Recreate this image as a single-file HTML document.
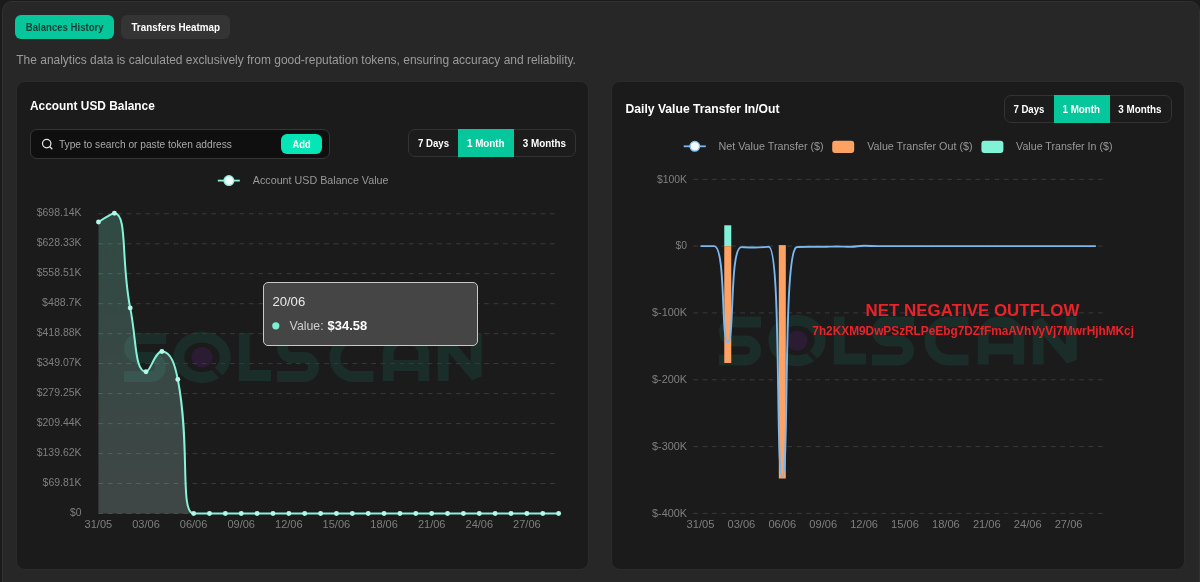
<!DOCTYPE html>
<html>
<head>
<meta charset="utf-8">
<title>Analytics</title>
<style>
*{box-sizing:border-box;margin:0;padding:0}
html,body{width:1200px;height:582px;overflow:hidden;background:#1b1b1b}
body{font-family:"Liberation Sans",sans-serif;position:relative;color:#fff}
.abs{position:absolute}
.outer{left:2px;top:1px;width:1198px;height:600px;border:1.3px solid #313131;border-radius:10px 10px 0 0;background:#272727}
.tab{top:15.3px;height:24px;border-radius:6px}
.tab1{left:15px;width:99px;background:#06c79b}
.tab2{left:121px;width:109px;background:#343434}
.card{background:#1b1b1b;border-radius:9px;border:1px solid #2b2b2b}
.cardL{left:15.5px;top:80.6px;width:573.9px;height:489.4px}
.cardR{left:611px;top:80.6px;width:574px;height:489.4px}
.search{left:30px;top:129px;width:300px;height:30px;background:#0f0f0f;border:1px solid #363636;border-radius:7px}
.add{left:281px;top:134px;width:41px;height:20px;background:#04e6b5;border-radius:6px}
.grp{height:28px;width:167.5px;border:1px solid #333;border-radius:7px;overflow:hidden;background:#1c1c1c}
.act{width:56.2px;height:28px;background:#06c79b}
.tip{left:263px;top:282px;width:214.5px;height:63.6px;background:#454545;border:1.2px solid #c8c8c8;border-radius:5px}
svg{position:absolute;left:0;top:0;will-change:transform}
svg text{font-family:"Liberation Sans",sans-serif}
.grid{stroke:#3a3a3a;stroke-width:1;stroke-dasharray:4.7 4.71}
.ax{font-size:10.2px;fill:#7f7f7f}
.lg{font-size:11.4px;fill:#999}
.b{font-weight:bold}
.bt{font-size:10.8px;font-weight:bold;fill:#fff}
.red{fill:#ea2229;font-weight:bold}
</style>
</head>
<body>
<div class="abs outer"></div>
<div class="abs tab tab1"></div>
<div class="abs tab tab2"></div>
<div class="abs card cardL"></div>
<div class="abs card cardR"></div>
<div class="abs search"></div>
<div class="abs add"></div>
<div class="abs grp" style="left:408.4px;top:129px"></div><div class="abs act" style="left:457.9px;top:129px"></div>
<div class="abs grp" style="left:1004px;top:95px"></div><div class="abs act" style="left:1053.5px;top:95px"></div>

<svg width="1200" height="582" viewBox="0 0 1200 582">
<defs>
<linearGradient id="gL" x1="0" y1="213" x2="0" y2="513" gradientUnits="userSpaceOnUse"><stop offset="0" stop-color="#7cf0d3" stop-opacity="0.22"/><stop offset="1" stop-color="#c8ebe6" stop-opacity="0.21"/></linearGradient>

</defs>
<!-- header texts -->
<text x="25.8" y="31" textLength="77.8" lengthAdjust="spacingAndGlyphs" style="font-size:10.8px;font-weight:bold;fill:#153d33">Balances History</text>
<text x="131.4" y="31" textLength="88.6" lengthAdjust="spacingAndGlyphs" class="bt">Transfers Heatmap</text>
<text x="16.3" y="63.8" textLength="559.6" lengthAdjust="spacingAndGlyphs" style="font-size:12.4px;fill:#9b9b9b">The analytics data is calculated exclusively from good-reputation tokens, ensuring accuracy and reliability.</text>
<text x="30" y="110" textLength="124.8" lengthAdjust="spacingAndGlyphs" style="font-size:13.5px;font-weight:bold;fill:#fff">Account USD Balance</text>
<text x="625.5" y="113.1" textLength="154" lengthAdjust="spacingAndGlyphs" style="font-size:13.2px;font-weight:bold;fill:#fff">Daily Value Transfer In/Out</text>
<!-- search -->
<circle cx="46.7" cy="143.6" r="4.2" fill="none" stroke="#e2e2e2" stroke-width="1.25"/>
<path d="M49.8 146.7 L51.9 148.7" stroke="#e2e2e2" stroke-width="1.3" stroke-linecap="round"/>
<text x="58.9" y="147.7" textLength="173" lengthAdjust="spacingAndGlyphs" style="font-size:11px;fill:#a9a9a9">Type to search or paste token address</text>
<text x="292.5" y="147.6" textLength="18.2" lengthAdjust="spacingAndGlyphs" class="bt">Add</text>
<!-- button groups -->
<text x="418" y="146.7" textLength="31" lengthAdjust="spacingAndGlyphs" class="bt">7 Days</text>
<text x="467" y="146.7" textLength="37.6" lengthAdjust="spacingAndGlyphs" class="bt">1 Month</text>
<text x="522.7" y="146.7" textLength="43.3" lengthAdjust="spacingAndGlyphs" class="bt">3 Months</text>
<text x="1013.4" y="112.6" textLength="31" lengthAdjust="spacingAndGlyphs" class="bt">7 Days</text>
<text x="1062.5" y="112.6" textLength="37.6" lengthAdjust="spacingAndGlyphs" class="bt">1 Month</text>
<text x="1118.2" y="112.6" textLength="43.3" lengthAdjust="spacingAndGlyphs" class="bt">3 Months</text>
<!-- watermarks -->
<g transform="translate(123,331.6)" fill="none" stroke="#1b2d29" stroke-width="11">
<path d="M43,7 H16 a9.5,9.5 0 0 0 0,19 H28 a9.5,9.5 0 0 1 0,19 H1"/>
<ellipse cx="79" cy="25.6" rx="23.2" ry="20.3"/>
<path d="M88,35 L101,48" stroke="#1c1c1c" stroke-width="4"/>
<ellipse cx="79" cy="25.6" rx="10.6" ry="10.2" fill="#2c1c33" stroke="none"/>
<path d="M121.2,1.5 V44 H148"/>
<path d="M196,7 H169 a9.5,9.5 0 0 0 0,19 H181 a9.5,9.5 0 0 1 0,19 H154"/>
<path d="M250.5,7 H231 a19,19 0 0 0 0,38 H250.5"/>
<path d="M265.2,49.5 V23 a16,16 0 0 1 16,-16 h3.6 a16,16 0 0 1 16,16 V49.5 M265.2,34 H300.8"/>
<path d="M320.2,49.5 V6 L353.2,45 V1.5" stroke-linejoin="bevel"/>
</g>
<g transform="translate(718,315)" fill="none" stroke="#1b2d29" stroke-width="11">
<path d="M43,7 H16 a9.5,9.5 0 0 0 0,19 H28 a9.5,9.5 0 0 1 0,19 H1"/>
<ellipse cx="79" cy="25.6" rx="23.2" ry="20.3"/>
<path d="M88,35 L101,48" stroke="#1c1c1c" stroke-width="4"/>
<ellipse cx="79" cy="25.6" rx="10.6" ry="10.2" fill="#2c1c33" stroke="none"/>
<path d="M121.2,1.5 V44 H148"/>
<path d="M196,7 H169 a9.5,9.5 0 0 0 0,19 H181 a9.5,9.5 0 0 1 0,19 H154"/>
<path d="M250.5,7 H231 a19,19 0 0 0 0,38 H250.5"/>
<path d="M265.2,49.5 V23 a16,16 0 0 1 16,-16 h3.6 a16,16 0 0 1 16,16 V49.5 M265.2,34 H300.8"/>
<path d="M320.2,49.5 V6 L353.2,45 V1.5" stroke-linejoin="bevel"/>
</g>
<!-- legend left -->
<line x1="217.8" y1="180.6" x2="239.8" y2="180.6" stroke="#8cf4db" stroke-width="1.8"/>
<circle cx="228.9" cy="180.6" r="4.8" fill="#f0fffb" stroke="#8ff3da" stroke-width="1.4"/>
<text x="252.8" y="183.8" textLength="135.7" lengthAdjust="spacingAndGlyphs" class="lg">Account USD Balance Value</text>
<!-- legend right -->
<line x1="683.7" y1="146.3" x2="705.8" y2="146.3" stroke="#7ab8f0" stroke-width="1.8"/>
<circle cx="694.8" cy="146.3" r="4.8" fill="#f4f9ff" stroke="#86c0f9" stroke-width="1.4"/>
<text x="718.4" y="149.8" textLength="105.3" lengthAdjust="spacingAndGlyphs" class="lg">Net Value Transfer ($)</text>
<rect x="832.2" y="140.7" width="22" height="12.2" rx="3" fill="#fda263"/>
<text x="867.2" y="149.8" textLength="105.3" lengthAdjust="spacingAndGlyphs" class="lg">Value Transfer Out ($)</text>
<rect x="981.4" y="140.7" width="22" height="12.2" rx="3" fill="#80f2d8"/>
<text x="1016.1" y="149.8" textLength="96.4" lengthAdjust="spacingAndGlyphs" class="lg">Value Transfer In ($)</text>
<line x1="98.4" y1="213.8" x2="558.6" y2="213.8" class="grid"/>
<text x="81.6" y="215.9" class="ax" text-anchor="end" textLength="44.9" lengthAdjust="spacingAndGlyphs">$698.14K</text>
<line x1="98.4" y1="243.8" x2="558.6" y2="243.8" class="grid"/>
<text x="81.6" y="245.9" class="ax" text-anchor="end" textLength="44.9" lengthAdjust="spacingAndGlyphs">$628.33K</text>
<line x1="98.4" y1="273.7" x2="558.6" y2="273.7" class="grid"/>
<text x="81.6" y="275.9" class="ax" text-anchor="end" textLength="44.9" lengthAdjust="spacingAndGlyphs">$558.51K</text>
<line x1="98.4" y1="303.7" x2="558.6" y2="303.7" class="grid"/>
<text x="81.6" y="305.9" class="ax" text-anchor="end" textLength="39.5" lengthAdjust="spacingAndGlyphs">$488.7K</text>
<line x1="98.4" y1="333.7" x2="558.6" y2="333.7" class="grid"/>
<text x="81.6" y="335.9" class="ax" text-anchor="end" textLength="44.9" lengthAdjust="spacingAndGlyphs">$418.88K</text>
<line x1="98.4" y1="363.6" x2="558.6" y2="363.6" class="grid"/>
<text x="81.6" y="365.9" class="ax" text-anchor="end" textLength="44.9" lengthAdjust="spacingAndGlyphs">$349.07K</text>
<line x1="98.4" y1="393.6" x2="558.6" y2="393.6" class="grid"/>
<text x="81.6" y="395.9" class="ax" text-anchor="end" textLength="44.9" lengthAdjust="spacingAndGlyphs">$279.25K</text>
<line x1="98.4" y1="423.6" x2="558.6" y2="423.6" class="grid"/>
<text x="81.6" y="425.9" class="ax" text-anchor="end" textLength="44.9" lengthAdjust="spacingAndGlyphs">$209.44K</text>
<line x1="98.4" y1="453.6" x2="558.6" y2="453.6" class="grid"/>
<text x="81.6" y="455.9" class="ax" text-anchor="end" textLength="44.9" lengthAdjust="spacingAndGlyphs">$139.62K</text>
<line x1="98.4" y1="483.5" x2="558.6" y2="483.5" class="grid"/>
<text x="81.6" y="485.9" class="ax" text-anchor="end" textLength="39.0" lengthAdjust="spacingAndGlyphs">$69.81K</text>
<line x1="98.4" y1="513.5" x2="558.6" y2="513.5" class="grid"/>
<text x="81.6" y="515.9" class="ax" text-anchor="end" textLength="11.5" lengthAdjust="spacingAndGlyphs">$0</text>
<text x="98.4" y="527.6" class="ax" text-anchor="middle" textLength="27.6" lengthAdjust="spacingAndGlyphs">31/05</text>
<text x="146.0" y="527.6" class="ax" text-anchor="middle" textLength="27.6" lengthAdjust="spacingAndGlyphs">03/06</text>
<text x="193.6" y="527.6" class="ax" text-anchor="middle" textLength="27.6" lengthAdjust="spacingAndGlyphs">06/06</text>
<text x="241.2" y="527.6" class="ax" text-anchor="middle" textLength="27.6" lengthAdjust="spacingAndGlyphs">09/06</text>
<text x="288.8" y="527.6" class="ax" text-anchor="middle" textLength="27.6" lengthAdjust="spacingAndGlyphs">12/06</text>
<text x="336.4" y="527.6" class="ax" text-anchor="middle" textLength="27.6" lengthAdjust="spacingAndGlyphs">15/06</text>
<text x="384.1" y="527.6" class="ax" text-anchor="middle" textLength="27.6" lengthAdjust="spacingAndGlyphs">18/06</text>
<text x="431.7" y="527.6" class="ax" text-anchor="middle" textLength="27.6" lengthAdjust="spacingAndGlyphs">21/06</text>
<text x="479.3" y="527.6" class="ax" text-anchor="middle" textLength="27.6" lengthAdjust="spacingAndGlyphs">24/06</text>
<text x="526.9" y="527.6" class="ax" text-anchor="middle" textLength="27.6" lengthAdjust="spacingAndGlyphs">27/06</text>
<path d="M98.50,222.00 C98.50,222.00 111.88,213.30 114.40,213.30 C127.73,213.30 120.83,260.90 130.20,307.90 C136.63,340.15 134.61,371.80 146.00,371.80 C150.46,371.80 154.82,351.50 161.90,351.50 C170.72,351.50 174.75,363.84 177.80,379.40 C190.61,444.81 179.44,513.45 193.62,513.45 C195.29,513.45 201.56,513.45 209.49,513.45 C217.43,513.45 217.43,513.45 225.36,513.45 C233.30,513.45 233.29,513.45 241.23,513.45 C249.17,513.45 249.17,513.45 257.10,513.45 C265.04,513.45 265.04,513.45 272.97,513.45 C280.91,513.45 280.91,513.45 288.84,513.45 C296.78,513.45 296.78,513.45 304.71,513.45 C312.64,513.45 312.64,513.45 320.58,513.45 C328.51,513.45 328.51,513.45 336.45,513.45 C344.38,513.45 344.38,513.45 352.32,513.45 C360.25,513.45 360.25,513.45 368.19,513.45 C376.12,513.45 376.12,513.45 384.06,513.45 C391.99,513.45 391.99,513.45 399.93,513.45 C407.86,513.45 407.86,513.45 415.80,513.45 C423.73,513.45 423.73,513.45 431.67,513.45 C439.60,513.45 439.60,513.45 447.54,513.45 C455.47,513.45 455.47,513.45 463.41,513.45 C471.34,513.45 471.34,513.45 479.28,513.45 C487.21,513.45 487.21,513.45 495.15,513.45 C503.08,513.45 503.09,513.45 511.02,513.45 C518.95,513.45 518.95,513.45 526.89,513.45 C534.83,513.45 534.83,513.45 542.76,513.45 C550.69,513.45 558.63,513.45 558.63,513.45 L558.63,513.50 L98.40,513.50 Z" fill="url(#gL)"/>
<path d="M98.50,222.00 C98.50,222.00 111.88,213.30 114.40,213.30 C127.73,213.30 120.83,260.90 130.20,307.90 C136.63,340.15 134.61,371.80 146.00,371.80 C150.46,371.80 154.82,351.50 161.90,351.50 C170.72,351.50 174.75,363.84 177.80,379.40 C190.61,444.81 179.44,513.45 193.62,513.45 C195.29,513.45 201.56,513.45 209.49,513.45 C217.43,513.45 217.43,513.45 225.36,513.45 C233.30,513.45 233.29,513.45 241.23,513.45 C249.17,513.45 249.17,513.45 257.10,513.45 C265.04,513.45 265.04,513.45 272.97,513.45 C280.91,513.45 280.91,513.45 288.84,513.45 C296.78,513.45 296.78,513.45 304.71,513.45 C312.64,513.45 312.64,513.45 320.58,513.45 C328.51,513.45 328.51,513.45 336.45,513.45 C344.38,513.45 344.38,513.45 352.32,513.45 C360.25,513.45 360.25,513.45 368.19,513.45 C376.12,513.45 376.12,513.45 384.06,513.45 C391.99,513.45 391.99,513.45 399.93,513.45 C407.86,513.45 407.86,513.45 415.80,513.45 C423.73,513.45 423.73,513.45 431.67,513.45 C439.60,513.45 439.60,513.45 447.54,513.45 C455.47,513.45 455.47,513.45 463.41,513.45 C471.34,513.45 471.34,513.45 479.28,513.45 C487.21,513.45 487.21,513.45 495.15,513.45 C503.08,513.45 503.09,513.45 511.02,513.45 C518.95,513.45 518.95,513.45 526.89,513.45 C534.83,513.45 534.83,513.45 542.76,513.45 C550.69,513.45 558.63,513.45 558.63,513.45" fill="none" stroke="#86f3d9" stroke-width="2" stroke-linejoin="round"/>
<circle cx="98.50" cy="222.00" r="2.45" fill="#b4f8e8"/>
<circle cx="114.40" cy="213.30" r="2.45" fill="#b4f8e8"/>
<circle cx="130.20" cy="307.90" r="2.45" fill="#b4f8e8"/>
<circle cx="146.00" cy="371.80" r="2.45" fill="#b4f8e8"/>
<circle cx="161.90" cy="351.50" r="2.45" fill="#b4f8e8"/>
<circle cx="177.80" cy="379.40" r="2.45" fill="#b4f8e8"/>
<circle cx="193.62" cy="513.45" r="2.45" fill="#b4f8e8"/>
<circle cx="209.49" cy="513.45" r="2.45" fill="#b4f8e8"/>
<circle cx="225.36" cy="513.45" r="2.45" fill="#b4f8e8"/>
<circle cx="241.23" cy="513.45" r="2.45" fill="#b4f8e8"/>
<circle cx="257.10" cy="513.45" r="2.45" fill="#b4f8e8"/>
<circle cx="272.97" cy="513.45" r="2.45" fill="#b4f8e8"/>
<circle cx="288.84" cy="513.45" r="2.45" fill="#b4f8e8"/>
<circle cx="304.71" cy="513.45" r="2.45" fill="#b4f8e8"/>
<circle cx="320.58" cy="513.45" r="2.45" fill="#b4f8e8"/>
<circle cx="336.45" cy="513.45" r="2.45" fill="#b4f8e8"/>
<circle cx="352.32" cy="513.45" r="2.45" fill="#b4f8e8"/>
<circle cx="368.19" cy="513.45" r="2.45" fill="#b4f8e8"/>
<circle cx="384.06" cy="513.45" r="2.45" fill="#b4f8e8"/>
<circle cx="399.93" cy="513.45" r="2.45" fill="#b4f8e8"/>
<circle cx="415.80" cy="513.45" r="2.45" fill="#b4f8e8"/>
<circle cx="431.67" cy="513.45" r="2.45" fill="#b4f8e8"/>
<circle cx="447.54" cy="513.45" r="2.45" fill="#b4f8e8"/>
<circle cx="463.41" cy="513.45" r="2.45" fill="#b4f8e8"/>
<circle cx="479.28" cy="513.45" r="2.45" fill="#b4f8e8"/>
<circle cx="495.15" cy="513.45" r="2.45" fill="#b4f8e8"/>
<circle cx="511.02" cy="513.45" r="2.45" fill="#b4f8e8"/>
<circle cx="526.89" cy="513.45" r="2.45" fill="#b4f8e8"/>
<circle cx="542.76" cy="513.45" r="2.45" fill="#b4f8e8"/>
<circle cx="558.63" cy="513.45" r="2.45" fill="#b4f8e8"/>
<line x1="693.3" y1="179.3" x2="1103" y2="179.3" class="grid"/>
<text x="687.0" y="182.5" class="ax" text-anchor="end" textLength="30.1" lengthAdjust="spacingAndGlyphs">$100K</text>
<line x1="693.3" y1="246.1" x2="1103" y2="246.1" class="grid"/>
<text x="687.0" y="249.3" class="ax" text-anchor="end" textLength="11.5" lengthAdjust="spacingAndGlyphs">$0</text>
<line x1="693.3" y1="312.9" x2="1103" y2="312.9" class="grid"/>
<text x="687.0" y="316.1" class="ax" text-anchor="end" textLength="35.0" lengthAdjust="spacingAndGlyphs">$-100K</text>
<line x1="693.3" y1="379.8" x2="1103" y2="379.8" class="grid"/>
<text x="687.0" y="383.0" class="ax" text-anchor="end" textLength="35.0" lengthAdjust="spacingAndGlyphs">$-200K</text>
<line x1="693.3" y1="446.6" x2="1103" y2="446.6" class="grid"/>
<text x="687.0" y="449.8" class="ax" text-anchor="end" textLength="35.0" lengthAdjust="spacingAndGlyphs">$-300K</text>
<line x1="693.3" y1="513.4" x2="1103" y2="513.4" class="grid"/>
<text x="687.0" y="516.6" class="ax" text-anchor="end" textLength="35.0" lengthAdjust="spacingAndGlyphs">$-400K</text>
<text x="700.5" y="527.8" class="ax" text-anchor="middle" textLength="27.8" lengthAdjust="spacingAndGlyphs">31/05</text>
<text x="741.4" y="527.8" class="ax" text-anchor="middle" textLength="27.8" lengthAdjust="spacingAndGlyphs">03/06</text>
<text x="782.3" y="527.8" class="ax" text-anchor="middle" textLength="27.8" lengthAdjust="spacingAndGlyphs">06/06</text>
<text x="823.2" y="527.8" class="ax" text-anchor="middle" textLength="27.8" lengthAdjust="spacingAndGlyphs">09/06</text>
<text x="864.1" y="527.8" class="ax" text-anchor="middle" textLength="27.8" lengthAdjust="spacingAndGlyphs">12/06</text>
<text x="905.0" y="527.8" class="ax" text-anchor="middle" textLength="27.8" lengthAdjust="spacingAndGlyphs">15/06</text>
<text x="945.9" y="527.8" class="ax" text-anchor="middle" textLength="27.8" lengthAdjust="spacingAndGlyphs">18/06</text>
<text x="986.8" y="527.8" class="ax" text-anchor="middle" textLength="27.8" lengthAdjust="spacingAndGlyphs">21/06</text>
<text x="1027.7" y="527.8" class="ax" text-anchor="middle" textLength="27.8" lengthAdjust="spacingAndGlyphs">24/06</text>
<text x="1068.6" y="527.8" class="ax" text-anchor="middle" textLength="27.8" lengthAdjust="spacingAndGlyphs">27/06</text>
<rect x="724.27" y="225.3" width="7" height="20.82" fill="#80f2d8"/>
<rect x="724.27" y="246.12" width="7" height="116.88" fill="#fda263"/>
<rect x="778.81" y="245.12" width="7" height="233.38" fill="#fda263"/>
<path d="M700.50,246.12 C700.50,246.12 712.46,246.12 714.13,246.12 C726.09,246.12 720.92,342.34 727.77,342.34 C734.55,342.34 729.46,247.12 741.40,247.12 C743.10,247.12 748.23,247.46 755.04,247.46 C761.86,247.46 767.91,246.79 768.67,246.79 C781.55,246.79 775.48,477.32 782.31,477.32 C789.12,477.32 783.07,258.73 795.94,247.46 C796.71,246.79 802.76,246.79 809.58,246.79 C816.39,246.79 816.40,246.79 823.22,246.79 C830.03,246.79 830.03,246.45 836.85,246.45 C843.67,246.45 843.68,246.79 850.49,246.79 C857.31,246.79 857.29,245.79 864.12,245.79 C870.93,245.79 870.94,246.12 877.75,246.12 C884.57,246.12 884.57,246.12 891.39,246.12 C898.21,246.12 898.21,246.12 905.02,246.12 C911.84,246.12 911.84,246.12 918.66,246.12 C925.48,246.12 925.48,246.12 932.29,246.12 C939.11,246.12 939.11,246.12 945.93,246.12 C952.75,246.12 952.75,246.12 959.57,246.12 C966.38,246.12 966.38,246.12 973.20,246.12 C980.02,246.12 980.02,246.12 986.84,246.12 C993.65,246.12 993.65,246.12 1000.47,246.12 C1007.29,246.12 1007.29,246.12 1014.11,246.12 C1020.92,246.12 1020.92,246.12 1027.74,246.12 C1034.56,246.12 1034.56,246.12 1041.38,246.12 C1048.19,246.12 1048.19,246.12 1055.01,246.12 C1061.83,246.12 1061.83,246.12 1068.64,246.12 C1075.46,246.12 1075.46,246.12 1082.28,246.12 C1089.10,246.12 1095.91,246.12 1095.91,246.12" fill="none" stroke="#7ab8f0" stroke-width="1.9" stroke-linejoin="round"/>
<!-- red annotation -->
<text x="865.6" y="315.7" textLength="213.8" lengthAdjust="spacingAndGlyphs" class="red" style="font-size:17px">NET NEGATIVE OUTFLOW</text>
<text x="812.3" y="335.2" textLength="321.7" lengthAdjust="spacingAndGlyphs" class="red" style="font-size:12.2px">7h2KXM9DwPSzRLPeEbg7DZfFmaAVhVyVj7MwrHjhMKcj</text>
</svg>

<!-- tooltip -->
<div class="abs tip"></div>
<svg width="1200" height="582" viewBox="0 0 1200 582">
<text x="272.4" y="306.4" textLength="32.8" lengthAdjust="spacingAndGlyphs" style="font-size:13px;fill:#e9e9e9">20/06</text>
<circle cx="275.8" cy="325.8" r="3.6" fill="#7cf0d3"/>
<text x="289.6" y="330" textLength="34" lengthAdjust="spacingAndGlyphs" style="font-size:13px;fill:#cdcdcd">Value:</text>
<text x="327.6" y="330" textLength="39.6" lengthAdjust="spacingAndGlyphs" style="font-size:13px;font-weight:bold;fill:#fff">$34.58</text>
</svg>
</body>
</html>
